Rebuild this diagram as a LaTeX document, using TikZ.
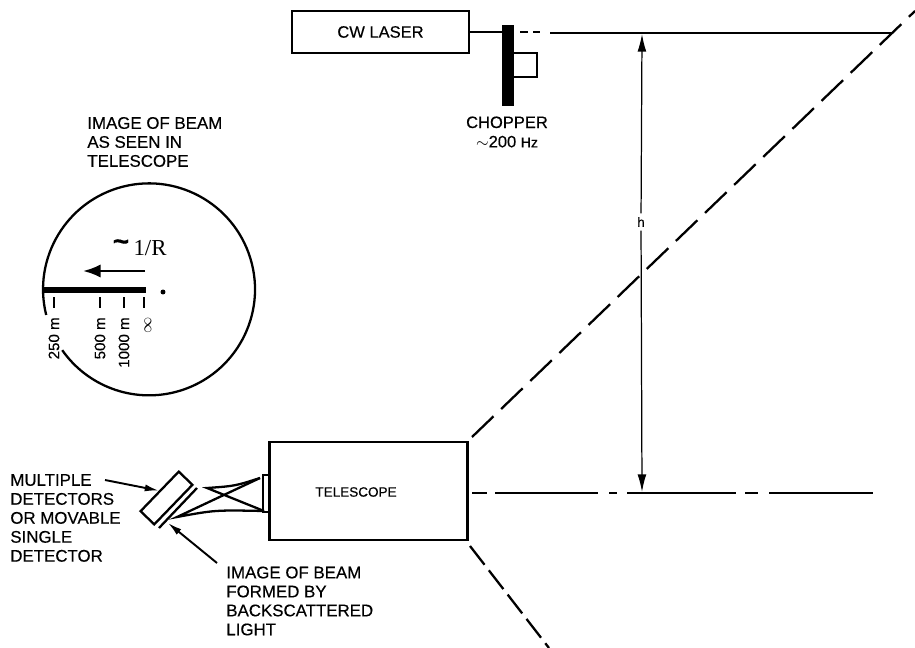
\documentclass[tikz,border=0pt]{standalone}
\usepackage{fontspec}
\setmainfont[FakeBold=0.35]{Liberation Sans}
\newfontfamily\rfont{Liberation Serif}
\usetikzlibrary{arrows.meta}
\tikzset{
  thick line/.style={line width=1.3pt},
  thin line/.style={line width=0.7pt},
  beam/.style={line width=1.3pt, dash pattern=on 17pt off 6pt},
  lab/.style={font=\fontsize{9.6}{10.8}\selectfont, align=left, inner sep=0pt, anchor=west},
  scalelab/.style={rotate=90, anchor=east, font=\fontsize{8.6}{9}\selectfont, inner sep=0pt},
  pointer/.style={line width=1.1pt, -{Latex[length=8pt,width=4pt]}}
}
\begin{document}
\begin{tikzpicture}[x=0.02cm,y=-0.02cm]
  \useasboundingbox (0,0) rectangle (915,648);

  % Laser and chopper
  \node[draw, thick line, minimum width=3.54cm, minimum height=0.84cm, font=\fontsize{9.4}{10}\selectfont] (laser) at (380.5,32) {CW LASER};
  \node[fill=black, minimum width=0.24cm, minimum height=1.62cm, inner sep=0pt] (chopper) at (508,65.5) {};
  \draw[thick line] (laser.east) -- (chopper.west |- laser.east);
  \coordinate (c1) at (514,53);
  \coordinate (c2) at (537,53);
  \coordinate (c3) at (537,77);
  \coordinate (c4) at (514,77);
  \draw[thick line] (c1) -- (c2) -- (c3) -- (c4);
  \node[font=\fontsize{9.4}{11}\selectfont, align=center, inner sep=0pt] (choplab) at (507,132) {CHOPPER\\$\sim$200 {\fontsize{8}{11}\selectfont Hz}};

  % Beam
  \coordinate (beamend) at (893,33);
  \foreach \a/\b in {520/528, 533/540} {
    \coordinate (p\a) at (\a,32);
    \coordinate (q\a) at (\b,32);
    \draw[thick line] (p\a) -- (q\a);
  }
  \coordinate (d3) at (550,33);
  \draw[thick line] (d3) -- (beamend);

  % Telescope
  \node[draw, thick line, minimum width=3.96cm, minimum height=1.96cm] (telescope) at (368.5,491) {};
  \node[font=\fontsize{7.7}{10}\selectfont, inner sep=0pt] (tellab) at (356,492) {TELESCOPE};
  \coordinate (far) at (915,11);
  \coordinate (near) at (472,437);
  \draw[beam] (near) -- (far);
  \coordinate (low1) at (470,546);
  \coordinate (low2) at (549,648);
  \draw[thick line, dash pattern=on 13.5pt off 4pt] (low1) -- (low2);
  % Axis, a long dash and a short one in turn
  \foreach \a/\b in {472/487, 495/598, 609/617, 627/736, 745/758, 769/873} {
    \coordinate (p\a) at (\a,493);
    \coordinate (q\a) at (\b,493);
    \draw[thick line] (p\a) -- (q\a);
  }

  % Height
  \node[font=\fontsize{7.5}{8}\selectfont, inner sep=2pt] (h) at (641,222) {h};
  \coordinate (htop) at (642,34);
  \coordinate (hbot) at (642,492);
  \draw[thin line, -{Latex[length=10pt,width=5pt]}] (h) -- (htop);
  \draw[thin line, -{Latex[length=10pt,width=5pt]}] (h) -- (hbot);

  % Image of beam
  \node[lab] (imglab) at (87,142) {IMAGE OF BEAM\\AS SEEN IN\\TELESCOPE};
  \coordinate (start) at (46.2,315);
  \draw[thick line] (start) arc[start angle=194, end angle=-145, radius=2.12cm];
  \coordinate (b1) at (44,290);
  \coordinate (b2) at (146,290);
  \draw[line width=3.2pt] (b1) -- (b2);
  \coordinate (a1) at (145,271);
  \coordinate (a2) at (83,271);
  \draw[line width=1.4pt, -{Latex[length=10pt,width=7.5pt]}] (a1) -- (a2);
  \node[font=\fontsize{16}{16}\selectfont, inner sep=0pt] (tilde) at (121,245) {\textbf{\textasciitilde}};
  \node[font=\rfont\fontsize{13}{13}\selectfont, inner sep=0pt] (rlab) at (150,248) {1/R};
  \node[fill=black, circle, inner sep=1pt] (dot) at (163,292) {};
  \foreach \x/\t in {54/250 m, 100/500 m, 124/1000 m} {
    \coordinate (t\x) at (\x,297);
    \coordinate (u\x) at (\x,308);
    \draw[line width=1.3pt] (t\x) -- (u\x);
    \node[scalelab] (lab\x) at (\x,317) {\t};
  }
  \coordinate (t144) at (144,297);
  \coordinate (u144) at (144,308);
  \draw[line width=1.3pt] (t144) -- (u144);
  \node[scalelab] (lab144) at (148,317) {$\infty$};

  % Detector
  \node[lab] (detlab) at (10,518) {MULTIPLE\\DETECTORS\\OR MOVABLE\\SINGLE\\DETECTOR};
  \node[draw, thick line, rotate=46, minimum width=1.1cm, minimum height=0.38cm, inner sep=0pt] (det) at (166.5,498) {};
  \coordinate (s1) at (159,528);
  \coordinate (s2) at (197,488);
  \draw[thick line] (s1) -- (s2);
  \coordinate (multi) at (105,480);
  \draw[pointer] (multi) -- (det.north);
  \coordinate (form) at (217,563);
  \coordinate (ftip) at (168,523);
  \draw[pointer] (form) -- (ftip);
  \node[lab] (formlab) at (226,601) {IMAGE OF BEAM\\FORMED BY\\BACKSCATTERED\\LIGHT};

  % Mirror and rays
  \coordinate (m1) at (263,475);
  \coordinate (m2) at (269,512);
  \draw[thick line] (m1) rectangle (m2);
  \coordinate (r1) at (207,488);
  \coordinate (r2) at (177,517);
  \coordinate (r3) at (260,478);
  \coordinate (r4) at (264,511);
  \draw[thick line] (r3) .. controls (235,486) .. (r1) -- (r4);
  \draw[thick line] (r3) -- (r2) .. controls (215,510) .. (r4);
\end{tikzpicture}
\end{document}
